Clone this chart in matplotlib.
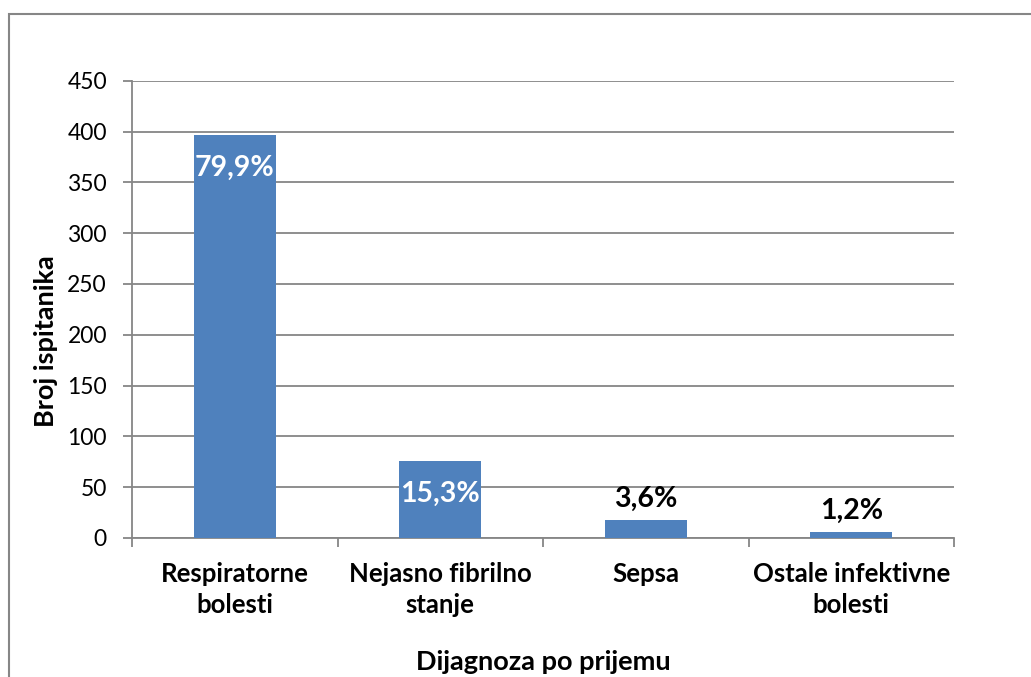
import matplotlib
matplotlib.use("Agg")
import matplotlib.pyplot as plt
from matplotlib.patches import Rectangle

categories = ["Respiratorne\nbolesti", "Nejasno fibrilno\nstanje", "Sepsa", "Ostale infektivne\nbolesti"]
values = [397, 76, 18, 6]
pct_labels = ["79,9%", "15,3%", "3,6%", "1,2%"]
y_ticks = [0, 50, 100, 150, 200, 250, 300, 350, 400, 450]

plt.rcParams['font.family'] = ['Lato', 'DejaVu Sans']
W, H = 1031, 677
fig = plt.figure(figsize=(W/100, H/100), dpi=100)
ax = fig.add_axes([132/W, 1-538/H, (954-132)/W, (538-80.7)/H])

gray = "#868686"
ax.bar(range(len(values)), values, width=0.4, color="#4F81BD", zorder=3)
ax.set_xlim(-0.5, len(values)-0.5)
ax.set_ylim(0, 450)
ax.set_yticks(y_ticks)
ax.set_yticklabels([str(v) for v in y_ticks], fontsize=16.5)
ax.yaxis.grid(True, color=gray, linewidth=1.3, zorder=0)
ax.set_axisbelow(True)
for s in ["top", "right"]:
    ax.spines[s].set_visible(False)
for s in ["left", "bottom"]:
    ax.spines[s].set_color(gray)
    ax.spines[s].set_linewidth(1.3)
ax.tick_params(axis="y", length=6.5, width=1.3, color=gray, pad=11.5)

ax.set_xticks([i-0.5 for i in range(len(values)+1)])
ax.set_xticklabels([])
ax.tick_params(axis="x", which="major", length=6.5, width=1.3, color=gray)
ax.set_xticks(range(len(values)), minor=True)
ax.set_xticklabels(categories, minor=True, fontsize=18.5, fontweight="bold", linespacing=1.38)
ax.tick_params(axis="x", which="minor", length=0, pad=17)

for i, (v, lab) in enumerate(zip(values, pct_labels)):
    if v > 50:
        ax.annotate(lab, (i, v), xytext=(0, -24), textcoords="offset points",
                    ha="center", va="center", color="white", fontsize=20.5, fontweight="bold")
    else:
        ax.annotate(lab, (i, v), xytext=(0, 15), textcoords="offset points",
                    ha="center", va="center", color="black", fontsize=20.5, fontweight="bold")

fig.text(46/W, 1-341/H, "Broj ispitanika", rotation=90, ha="center", va="center",
         fontsize=19.5, fontweight="bold")
fig.text(543/W, 1-669.5/H, "Dijagnoza po prijemu", ha="center", va="baseline",
         fontsize=19.5, fontweight="bold")

fig.patches.append(Rectangle((9/W, -0.1), 1.2, 1-14/H+0.1, transform=fig.transFigure,
                             fill=False, edgecolor=gray, linewidth=1.5))

fig.savefig("out.png", dpi=100)
